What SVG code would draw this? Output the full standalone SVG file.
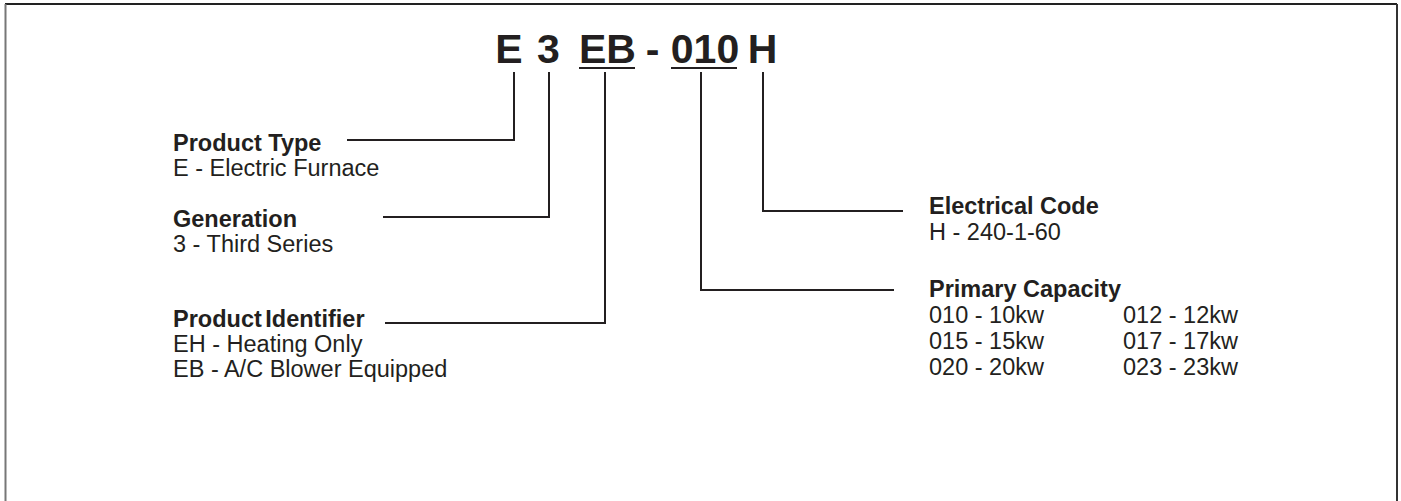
<svg xmlns="http://www.w3.org/2000/svg" width="1401" height="501" viewBox="0 0 1401 501">
<style>
text{font-family:"Liberation Sans",Arial,sans-serif;fill:#231f20}
.t{font-size:41px;font-weight:bold;text-anchor:middle}
.h{font-size:23.5px;font-weight:bold}
.b{font-size:23.5px}
.u line{stroke:#231f20;stroke-width:2;fill:none}
.c polyline{stroke:#231f20;stroke-width:2;fill:none}
</style>
<rect x="0" y="0" width="1401" height="501" fill="#fff"/>
<g id="frame">
<line x1="5" y1="4" x2="1397" y2="4" stroke="#222" stroke-width="2"/>
<line x1="5.5" y1="4" x2="5.5" y2="501" stroke="#777" stroke-width="2"/>
<line x1="1397" y1="4" x2="1397" y2="501" stroke="#333" stroke-width="2"/>
</g>
<g id="code">
<text class="t" x="509" y="63">E</text>
<text class="t" x="548.5" y="63">3</text>
<text class="t" x="607.5" y="63">EB</text>
<text class="t" x="652.5" y="63">-</text>
<text class="t" x="705" y="63">010</text>
<text class="t" x="762.5" y="63">H</text>
<g class="u">
<line x1="579" y1="68" x2="635" y2="68"/>
<line x1="671" y1="68" x2="737" y2="68"/>
</g>
</g>
<g id="connectors" class="c">
<polyline points="514,72 514,140 347,140"/>
<polyline points="549,72 549,217 383,217"/>
<polyline points="605,72 605,323 385,323"/>
<polyline points="701,72 701,290 894,290"/>
<polyline points="763,72 763,211 903,211"/>
</g>
<g id="product-type">
<text class="h" x="173" y="151">Product Type</text>
<text class="b" x="173" y="176">E - Electric Furnace</text>
</g>
<g id="generation">
<text class="h" x="173" y="227">Generation</text>
<text class="b" x="173" y="252">3 - Third Series</text>
</g>
<g id="product-identifier">
<text class="h" x="173" y="327" word-spacing="-3">Product Identifier</text>
<text class="b" x="173" y="352">EH - Heating Only</text>
<text class="b" x="173" y="377">EB - A/C Blower Equipped</text>
</g>
<g id="electrical-code">
<text class="h" x="929" y="214">Electrical Code</text>
<text class="b" x="929" y="240">H - 240-1-60</text>
</g>
<g id="primary-capacity">
<text class="h" x="929" y="297">Primary Capacity</text>
<text class="b" x="929" y="323">010 - 10kw</text>
<text class="b" x="1123" y="323">012 - 12kw</text>
<text class="b" x="929" y="349">015 - 15kw</text>
<text class="b" x="1123" y="349">017 - 17kw</text>
<text class="b" x="929" y="375">020 - 20kw</text>
<text class="b" x="1123" y="375">023 - 23kw</text>
</g>
</svg>
